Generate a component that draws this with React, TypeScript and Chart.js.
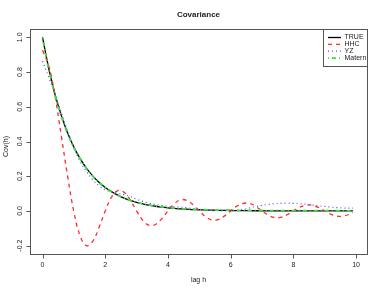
import React, { useEffect, useRef } from 'react';
import { Chart, registerables } from 'chart.js';
Chart.register(...registerables);

const lags = [
  0, 0.2, 0.4, 0.6, 0.8, 1.0, 1.2, 1.4, 1.6, 1.8,
  2.0, 2.2, 2.4, 2.6, 2.8, 3.0, 3.2, 3.4, 3.6, 3.8,
  4.0, 4.2, 4.4, 4.6, 4.8, 5.0, 5.2, 5.4, 5.6, 5.8,
  6.0, 6.2, 6.4, 6.6, 6.8, 7.0, 7.2, 7.4, 7.6, 7.8,
  8.0, 8.2, 8.4, 8.6, 8.8, 9.0, 9.2, 9.4, 9.6, 9.8, 9.9,
];

const trueCov = [
  1.0, 0.819, 0.67, 0.549, 0.449, 0.368, 0.301, 0.247, 0.202, 0.165,
  0.135, 0.111, 0.091, 0.074, 0.061, 0.05, 0.041, 0.033, 0.027, 0.022,
  0.018, 0.015, 0.012, 0.01, 0.008, 0.007, 0.0055, 0.0045, 0.0037, 0.003,
  0.0025, 0.002, 0.0017, 0.0014, 0.0011, 0.0009, 0.0007, 0.0006, 0.0005, 0.0004,
  0.0003, 0.0003, 0.0002, 0.0002, 0.0002, 0.0001, 0.0001, 0.0001, 0.0001, 0.0001, 0.0001,
];

const hhcCov = [
  0.925, 0.835, 0.66, 0.43, 0.2, -0.005, -0.145, -0.2, -0.175, -0.096,
  0.0, 0.079, 0.117, 0.108, 0.062, 0.0, -0.054, -0.083, -0.078, -0.046,
  0.0, 0.041, 0.064, 0.061, 0.036, 0.0, -0.033, -0.052, -0.05, -0.03,
  0.0, 0.028, 0.044, 0.043, 0.026, 0.0, -0.024, -0.038, -0.037, -0.022,
  0.0, 0.021, 0.033, 0.033, 0.02, 0.0, -0.019, -0.03, -0.029, -0.018, -0.009,
];

const yzCov = [
  0.862, 0.77, 0.67, 0.565, 0.46, 0.365, 0.285, 0.228, 0.18, 0.145,
  0.122, 0.11, 0.102, 0.094, 0.083, 0.068, 0.055, 0.045, 0.037, 0.031,
  0.027, 0.024, 0.022, 0.019, 0.014, 0.01, 0.006, 0.003, 0.001, 0.0,
  0.001, 0.004, 0.009, 0.017, 0.025, 0.032, 0.038, 0.042, 0.044, 0.045,
  0.044, 0.042, 0.039, 0.034, 0.03, 0.026, 0.022, 0.019, 0.017, 0.016, 0.016,
];

const maternCov = [
  0.995, 0.814, 0.666, 0.545, 0.446, 0.365, 0.299, 0.245, 0.2, 0.164,
  0.134, 0.11, 0.09, 0.074, 0.061, 0.05, 0.041, 0.034, 0.028, 0.023,
  0.019, 0.016, 0.013, 0.011, 0.009, 0.008, 0.007, 0.006, 0.005, 0.0045,
  0.004, 0.0035, 0.003, 0.003, 0.0025, 0.0025, 0.002, 0.002, 0.002, 0.0015,
  0.0015, 0.0015, 0.001, 0.001, 0.001, 0.001, 0.001, 0.001, 0.0008, 0.0008, 0.0008,
];

const xTicks = [0, 2, 4, 6, 8, 10];
const yTicks = [-0.2, 0.0, 0.2, 0.4, 0.6, 0.8, 1.0];
const yTickLabels = ['-0.2', '0.0', '0.2', '0.4', '0.6', '0.8', '1.0'];
const seriesNames = ['TRUE', 'HHC', 'YZ', 'Matern'];

const FONT = '"Liberation Sans", Arial, Helvetica, sans-serif';
const TEXT = '#222';
const AXIS = '#555';

const styles = [
  { color: '#000000', width: 1.3, dash: [] as number[] },
  { color: '#ff2a2a', width: 1.3, dash: [4, 4] },
  { color: '#4a4aff', width: 1.2, dash: [1, 3] },
  { color: '#3ee03e', width: 1.8, dash: [1, 3, 4, 3] },
];

const rPlugin = {
  id: 'rStyle',
  afterDraw(chart: any) {
    const { ctx, chartArea: a, scales } = chart;
    const xs = scales.x;
    const ys = scales.y;
    ctx.save();
    // box
    ctx.strokeStyle = AXIS;
    ctx.lineWidth = 1;
    ctx.setLineDash([]);
    const L = Math.round(a.left) + 0.5;
    const T = Math.round(a.top) + 0.5;
    const R = Math.round(a.right) + 0.5;
    const B = Math.round(a.bottom) + 0.5;
    ctx.strokeRect(L, T, R - L, B - T);

    // x axis ticks
    ctx.beginPath();
    for (const v of xTicks) {
      const px = Math.round(xs.getPixelForValue(v)) + 0.5;
      ctx.moveTo(px, B);
      ctx.lineTo(px, B + 4);
    }
    // y axis ticks
    for (const v of yTicks) {
      const py = Math.round(ys.getPixelForValue(v)) + 0.5;
      ctx.moveTo(L, py);
      ctx.lineTo(L - 4, py);
    }
    ctx.stroke();

    ctx.fillStyle = TEXT;
    ctx.font = `7px ${FONT}`;
    ctx.textAlign = 'center';
    ctx.textBaseline = 'middle';
    for (const v of xTicks) {
      ctx.fillText(String(v), xs.getPixelForValue(v), B + 11);
    }
    yTicks.forEach((v, i) => {
      const py = ys.getPixelForValue(v);
      ctx.save();
      ctx.translate(20, py);
      ctx.rotate(-Math.PI / 2);
      ctx.fillText(yTickLabels[i], 0, 0);
      ctx.restore();
    });

    // axis titles
    const cx = (a.left + a.right) / 2;
    ctx.fillText('lag h', cx, 280);
    ctx.save();
    ctx.translate(6, (a.top + a.bottom) / 2 + 5);
    ctx.rotate(-Math.PI / 2);
    ctx.fillText('Cov(h)', 0, 0);
    ctx.restore();

    // title
    ctx.font = `bold 8px ${FONT}`;
    ctx.fillText('Covariance', cx, 15);

    // legend
    const lx0 = 323.5, ly0 = T, lx1 = R, ly1 = 66.5;
    ctx.fillStyle = '#fff';
    ctx.fillRect(lx0, ly0, lx1 - lx0, ly1 - ly0);
    ctx.strokeStyle = AXIS;
    ctx.lineWidth = 1;
    ctx.strokeRect(lx0, ly0, lx1 - lx0, ly1 - ly0);
    const rows = [37.5, 44.3, 51.2, 58.2];
    ctx.font = `7px ${FONT}`;
    ctx.textAlign = 'left';
    seriesNames.forEach((name, i) => {
      const s = styles[i];
      ctx.beginPath();
      ctx.strokeStyle = s.color;
      ctx.lineWidth = s.width;
      ctx.setLineDash(s.dash);
      ctx.moveTo(328, rows[i]);
      ctx.lineTo(341, rows[i]);
      ctx.stroke();
      ctx.setLineDash([]);
      ctx.fillStyle = TEXT;
      ctx.fillText(name, 344.5, rows[i]);
    });
    ctx.restore();
  },
};

export default function App() {
  const ref = useRef<HTMLCanvasElement | null>(null);
  useEffect(() => {
    if (!ref.current) return;
    const all = [trueCov, hhcCov, yzCov, maternCov];
    const chart = new Chart(ref.current, {
      type: 'line',
      data: {
        datasets: all.map((vals, i) => ({
          label: seriesNames[i],
          data: lags.map((h, j) => ({ x: h, y: vals[j] })),
          borderColor: styles[i].color,
          borderWidth: styles[i].width,
          borderDash: styles[i].dash,
          pointRadius: 0,
          fill: false,
          tension: 0.4,
          order: 4 - i,
        })),
      },
      options: {
        responsive: false,
        animation: false,
        devicePixelRatio: 1,
        layout: { padding: { left: 30, top: 29, right: 15, bottom: 37 } },
        plugins: {
          legend: { display: false },
          tooltip: { enabled: false },
          title: { display: false },
        },
        scales: {
          x: { type: 'linear', min: -0.4, max: 10.35, display: false },
          y: { type: 'linear', min: -0.248, max: 1.048, display: false },
        },
      },
      plugins: [rPlugin],
    });
    return () => chart.destroy();
  }, []);
  return (
    <div style={{ position: 'absolute', left: 0, top: 0, width: 382, height: 291, background: '#fff' }}>
      <canvas ref={ref} width={382} height={291} style={{ display: 'block' }} />
    </div>
  );
}
